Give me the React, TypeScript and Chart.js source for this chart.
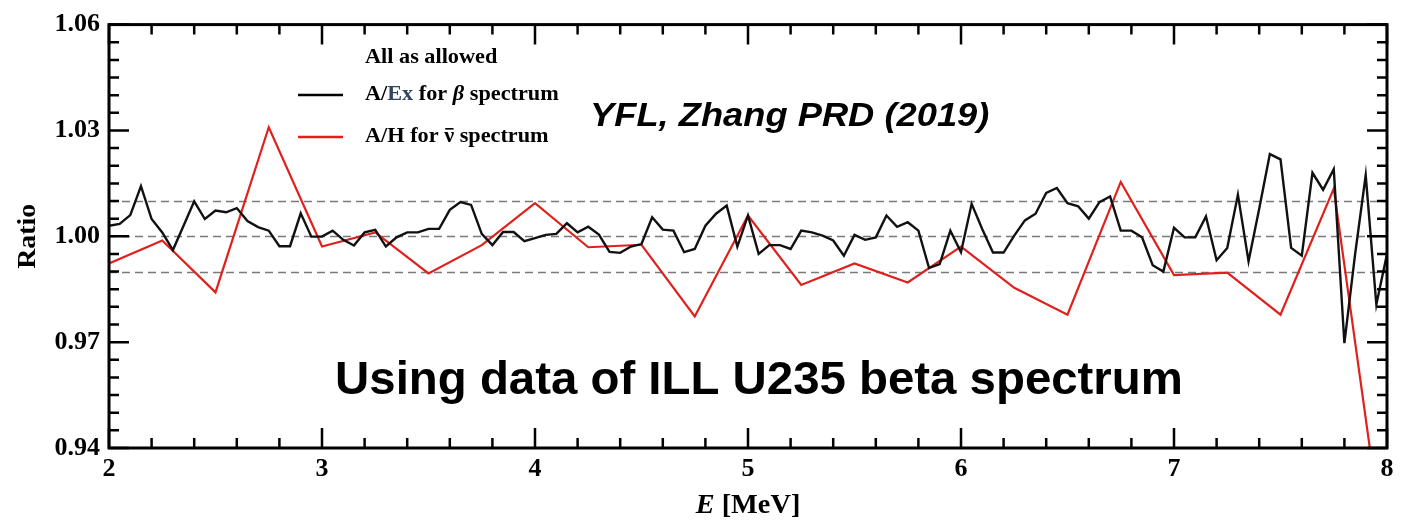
import React, { useEffect, useRef } from "react";
import { Chart, registerables } from "chart.js";

Chart.register(...registerables);

// A/Ex for beta spectrum (black)
const energyBeta: number[] = [
  2.0, 2.05, 2.1, 2.15, 2.2, 2.25, 2.3, 2.35, 2.4, 2.45, 2.5, 2.55, 2.6, 2.65, 2.7, 2.75, 2.8, 2.85, 2.9, 2.95,
  3.0, 3.05, 3.1, 3.15, 3.2, 3.25, 3.3, 3.35, 3.4, 3.45, 3.5, 3.55, 3.6, 3.65, 3.7, 3.75, 3.8, 3.85, 3.9, 3.95,
  4.0, 4.05, 4.1, 4.15, 4.2, 4.25, 4.3, 4.35, 4.4, 4.45, 4.5, 4.55, 4.6, 4.65, 4.7, 4.75, 4.8, 4.85, 4.9, 4.95,
  5.0, 5.05, 5.1, 5.15, 5.2, 5.25, 5.3, 5.35, 5.4, 5.45, 5.5, 5.55, 5.6, 5.65, 5.7, 5.75, 5.8, 5.85, 5.9, 5.95,
  6.0, 6.05, 6.1, 6.15, 6.2, 6.25, 6.3, 6.35, 6.4, 6.45, 6.5, 6.55, 6.6, 6.65, 6.7, 6.75, 6.8, 6.85, 6.9, 6.95,
  7.0, 7.05, 7.1, 7.15, 7.2, 7.25, 7.3, 7.35, 7.4, 7.45, 7.5, 7.55, 7.6, 7.65, 7.7, 7.75, 7.8, 7.85, 7.9, 7.95,
  8.0,
];
const ratioBeta: number[] = [
  1.003, 1.0035, 1.006, 1.0142, 1.0049, 1.0011, 0.9961, 1.003, 1.0099, 1.0049, 1.0073, 1.0068, 1.008, 1.0043, 1.0026, 1.0016, 0.9972, 0.9972, 1.0065, 0.9999,
  0.9999, 1.0016, 0.999, 0.9974, 1.0011, 1.0018, 0.9971, 0.9997, 1.0011, 1.0011, 1.0021, 1.0021, 1.0075, 1.0097, 1.0089, 1.0007, 0.9975, 1.0012, 1.0012, 0.9986,
  0.9995, 1.0004, 1.0007, 1.0037, 1.0011, 1.0027, 1.0005, 0.9956, 0.9953, 0.9971, 0.9978, 1.0054, 1.0019, 1.0016, 0.9955, 0.9964, 1.003, 1.0064, 1.0087, 0.9971,
  1.0059, 0.995, 0.9975, 0.9975, 0.9964, 1.0016, 1.0011, 1.0002, 0.9988, 0.9945, 1.0004, 0.999, 0.9997, 1.0059, 1.0027, 1.004, 1.0016, 0.991, 0.9921, 1.0016,
  0.9955, 1.0092, 1.002, 0.9954, 0.9954, 1.0002, 1.0045, 1.0064, 1.0123, 1.0137, 1.0094, 1.0085, 1.005, 1.0097, 1.0113, 1.0016, 1.0016, 0.9997, 0.9918, 0.99,
  1.0024, 0.9997, 0.9997, 1.0056, 0.9932, 0.9967, 1.0118, 0.9929, 1.0078, 1.0233, 1.0218, 0.9967, 0.9945, 1.018, 1.0132, 1.019, 0.9697, 0.9948, 1.0173, 0.9807,
  0.995,
];

// A/H for antineutrino spectrum (red)
const energyNu: number[] = [
  2.0, 2.25, 2.5, 2.75, 3.0, 3.25, 3.5, 3.75, 4.0, 4.25, 4.5, 4.75, 5.0, 5.25, 5.5, 5.75, 6.0, 6.25, 6.5, 6.75, 7.0, 7.25, 7.5, 7.75, 8.0,
];
const ratioNu: number[] = [
  0.9923, 0.9988, 0.9841, 1.0309, 0.9971, 1.0011, 0.9895, 0.9975, 1.0094, 0.9969, 0.9976, 0.9773, 1.0059, 0.9862, 0.9923, 0.9869, 0.9971, 0.9854, 0.9778, 1.0154, 0.989, 0.9897, 0.9778, 1.0135, 0.905,
];

const xMajorTicks: number[] = [2, 3, 4, 5, 6, 7, 8];
const yMajorTicks: number[] = [0.94, 0.97, 1.0, 1.03, 1.06];
const refLines: number[] = [0.99, 1.0, 1.01];

const SERIF = "'Liberation Serif', 'Times New Roman', serif";
const SANS = "'Liberation Sans', Arial, sans-serif";
const RED = "#e0201c";

type Part = { t: string; font: string; color?: string; overline?: boolean };

function drawParts(ctx: CanvasRenderingContext2D, parts: Part[], x: number, y: number, align: "left" | "center", sx: number) {
  ctx.save();
  ctx.textBaseline = "middle";
  ctx.textAlign = "left";
  let total = 0;
  const widths = parts.map((p) => {
    ctx.font = p.font;
    const w = ctx.measureText(p.t).width;
    total += w;
    return w;
  });
  ctx.translate(x, y);
  ctx.scale(sx, 1);
  let cx = align === "center" ? -total / 2 : 0;
  parts.forEach((p, i) => {
    ctx.font = p.font;
    ctx.fillStyle = p.color || "#000";
    ctx.fillText(p.t, cx, 0);
    if (p.overline) {
      ctx.fillRect(cx + 1, -9, widths[i] - 1.5, 1.6);
    }
    cx += widths[i];
  });
  ctx.restore();
}

const framePlugin = {
  id: "framePlugin",
  beforeDatasetsDraw(chart: any) {
    const { ctx, chartArea, scales } = chart;
    ctx.save();
    ctx.strokeStyle = "#7a7a7a";
    ctx.lineWidth = 1.6;
    ctx.setLineDash([8, 5]);
    refLines.forEach((v) => {
      const y = Math.round(scales.y.getPixelForValue(v)) + 0.5;
      ctx.beginPath();
      ctx.moveTo(chartArea.left, y);
      ctx.lineTo(chartArea.right, y);
      ctx.stroke();
    });
    ctx.restore();
  },
  afterDatasetsDraw(chart: any) {
    const { ctx, chartArea, scales } = chart;
    const { left, right, top, bottom } = chartArea;
    ctx.save();
    ctx.strokeStyle = "#000";
    ctx.lineWidth = 2.5;
    ctx.setLineDash([]);
    // ticks, inward on all four sides
    const major = 20;
    const minor = 10;
    ctx.beginPath();
    for (let k = 0; k <= 30; k++) {
      const v = 2 + k * 0.2;
      const len = k % 5 === 0 ? major : minor;
      const x = scales.x.getPixelForValue(v);
      ctx.moveTo(x, bottom);
      ctx.lineTo(x, bottom - len);
      ctx.moveTo(x, top);
      ctx.lineTo(x, top + len);
    }
    for (let k = 0; k <= 24; k++) {
      const v = 0.94 + k * 0.005;
      const len = k % 6 === 0 ? major : minor;
      const y = scales.y.getPixelForValue(v);
      ctx.moveTo(left, y);
      ctx.lineTo(left + len, y);
      ctx.moveTo(right, y);
      ctx.lineTo(right - len, y);
    }
    ctx.stroke();
    ctx.lineWidth = 3;
    ctx.strokeRect(left, top, right - left, bottom - top);
    ctx.restore();

    // axis titles
    drawParts(
      ctx,
      [
        { t: "E", font: `italic bold 27px ${SERIF}` },
        { t: " [MeV]", font: `bold 27px ${SERIF}` },
      ],
      (left + right) / 2,
      506,
      "center",
      1.05
    );
    ctx.save();
    ctx.translate(28, (top + bottom) / 2);
    ctx.rotate(-Math.PI / 2);
    drawParts(ctx, [{ t: "Ratio", font: `bold 26px ${SERIF}` }], 0, 0, "center", 1.07);
    ctx.restore();

    // legend
    drawParts(ctx, [{ t: "All as allowed", font: `bold 21px ${SERIF}` }], 365, 58, "left", 1.06);
    ctx.save();
    ctx.lineWidth = 2.5;
    ctx.strokeStyle = "#000";
    ctx.beginPath();
    ctx.moveTo(298, 95);
    ctx.lineTo(343, 95);
    ctx.stroke();
    ctx.strokeStyle = RED;
    ctx.beginPath();
    ctx.moveTo(298, 137);
    ctx.lineTo(343, 137);
    ctx.stroke();
    ctx.restore();
    drawParts(
      ctx,
      [
        { t: "A/", font: `bold 21px ${SERIF}` },
        { t: "Ex", font: `bold 21px ${SERIF}`, color: "#33465f" },
        { t: " for ", font: `bold 21px ${SERIF}` },
        { t: "β", font: `italic bold 21px ${SERIF}` },
        { t: " spectrum", font: `bold 21px ${SERIF}` },
      ],
      365,
      95,
      "left",
      1.06
    );
    drawParts(
      ctx,
      [
        { t: "A/H for ", font: `bold 21px ${SERIF}` },
        { t: "ν", font: `bold 21px ${SERIF}`, overline: true },
        { t: " spectrum", font: `bold 21px ${SERIF}` },
      ],
      365,
      137,
      "left",
      1.06
    );

    // annotations
    drawParts(ctx, [{ t: "YFL, Zhang PRD (2019)", font: `italic bold 33px ${SANS}` }], 590, 117, "left", 1.1);
    drawParts(ctx, [{ t: "Using data of ILL U235 beta spectrum", font: `bold 46px ${SANS}` }], 759, 381, "center", 1.03);
  },
};

export default function App() {
  const ref = useRef<HTMLCanvasElement>(null);
  useEffect(() => {
    if (!ref.current) return;
    const chart = new Chart(ref.current, {
      type: "line",
      data: {
        datasets: [
          {
            label: "A/Ex for β spectrum",
            data: energyBeta.map((x, i) => ({ x, y: ratioBeta[i] })),
            borderColor: "#111",
            borderWidth: 2.4,
            pointRadius: 0,
            tension: 0,
            fill: false,
          },
          {
            label: "A/H for ν̄ spectrum",
            data: energyNu.map((x, i) => ({ x, y: ratioNu[i] })),
            borderColor: RED,
            borderWidth: 2.2,
            pointRadius: 0,
            tension: 0,
            fill: false,
          },
        ],
      },
      options: {
        animation: false,
        responsive: false,
        devicePixelRatio: 1,
        layout: { padding: { top: 21, right: 14, left: 0, bottom: 0 } },
        plugins: { legend: { display: false }, tooltip: { enabled: false }, title: { display: false } },
        scales: {
          x: {
            type: "linear",
            min: 2,
            max: 8,
            afterBuildTicks: (s: any) => {
              s.ticks = xMajorTicks.map((v) => ({ value: v }));
            },
            ticks: {
              color: "#000",
              padding: 6,
              maxRotation: 0,
              font: { family: SERIF, weight: "bold", size: 26 },
              callback: (v: any) => String(v),
            },
            grid: { display: false, drawTicks: false },
            border: { display: false },
            afterFit: (s: any) => {
              s.height = 73;
            },
          },
          y: {
            type: "linear",
            min: 0.94,
            max: 1.06,
            afterBuildTicks: (s: any) => {
              s.ticks = yMajorTicks.map((v) => ({ value: v }));
            },
            ticks: {
              color: "#000",
              padding: 9,
              font: { family: SERIF, weight: "bold", size: 26 },
              callback: (v: any) => Number(v).toFixed(2),
            },
            grid: { display: false, drawTicks: false },
            border: { display: false },
            afterFit: (s: any) => {
              s.width = 109;
            },
          },
        },
      },
      plugins: [framePlugin],
    } as any);
    return () => chart.destroy();
  }, []);
  return (
    <div style={{ position: "absolute", left: 0, top: 0, width: 1401, height: 521, background: "#fff" }}>
      <canvas ref={ref} width={1401} height={521} style={{ width: 1401, height: 521, display: "block" }} />
    </div>
  );
}
